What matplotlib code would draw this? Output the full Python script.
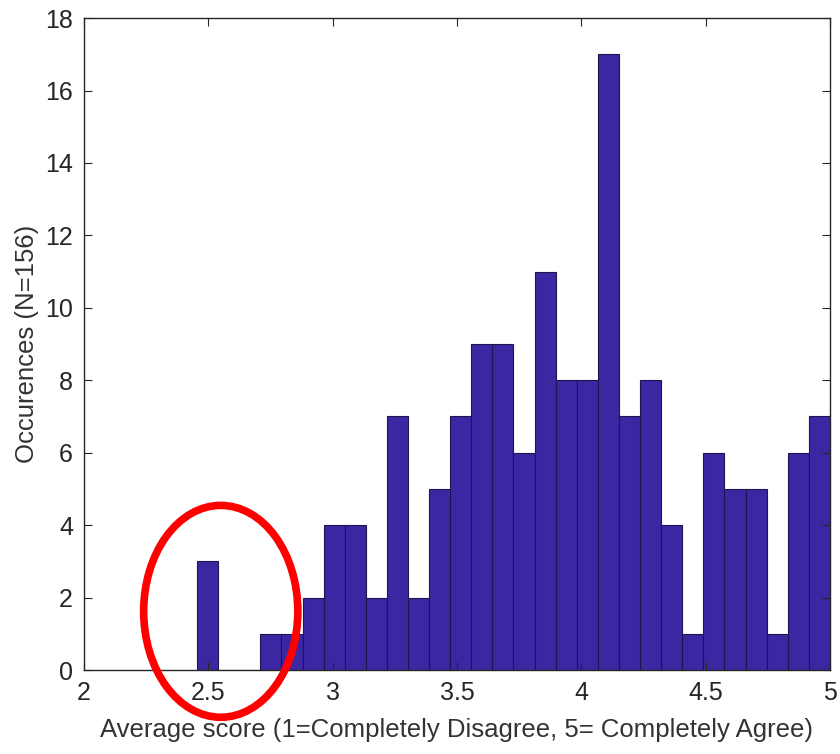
import numpy as np
import matplotlib.pyplot as plt
from matplotlib.patches import Ellipse

plt.rcParams['font.family'] = ['Liberation Sans', 'DejaVu Sans']

# conteggi per classe (30 classi tra il punteggio minimo 27/11 e 5)
counts = [3, 0, 0, 1, 1, 2, 4, 4, 2, 7, 2, 5, 7, 9, 9,
          6, 11, 8, 8, 17, 7, 8, 4, 1, 6, 5, 5, 1, 6, 7]
score_min = 27 / 11
score_max = 5.0
x_ticks = [2, 2.5, 3, 3.5, 4, 4.5, 5]
y_ticks = list(range(0, 19, 2))

edges = np.linspace(score_min, score_max, len(counts) + 1)
centers = (edges[:-1] + edges[1:]) / 2

fig = plt.figure(figsize=(8.4, 7.54), dpi=100)
ax = fig.add_axes([0.1, 0.1114, 0.888, 0.8646])

ax.hist(centers, bins=edges, weights=counts, color='#3b27a2',
        edgecolor='#1e1450', linewidth=0.8)

ax.set_xlim(2, 5)
ax.set_ylim(0, 18)
ax.set_xticks(x_ticks)
ax.set_xticklabels([f"{t:g}" for t in x_ticks])
ax.set_yticks(y_ticks)
ax.tick_params(direction='in', length=6, width=0.8, labelsize=18,
               right=True, top=True, colors='#262626', pad=8)
for s in ax.spines.values():
    s.set_color('#262626')
    s.set_linewidth(1.0)

ax.set_xlabel("Average score (1=Completely Disagree, 5= Completely Agree)",
              fontsize=18.5, color='#333333', labelpad=9)
ax.set_ylabel("Occurences (N=156)", fontsize=18.5, color='#333333', labelpad=4)

# cerchio rosso attorno alla coda sinistra
ell = Ellipse((2.55, 1.62), 0.62, 5.85, fill=False, edgecolor='#ff0000',
              linewidth=5.5, clip_on=False, zorder=5)
ax.add_patch(ell)

fig.savefig("out.png", dpi=100)
